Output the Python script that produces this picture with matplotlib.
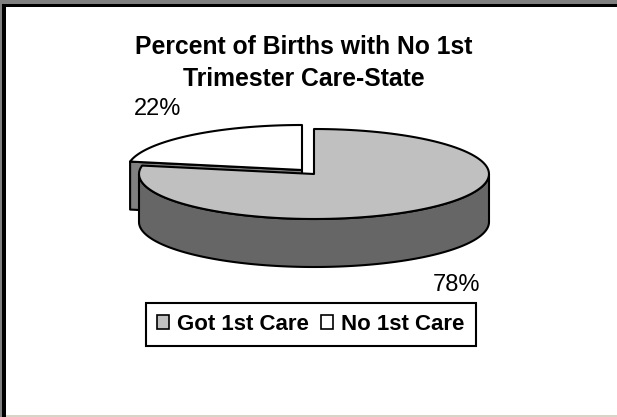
import matplotlib.pyplot as plt
import numpy as np
from matplotlib.patches import Patch, Rectangle

plt.rcParams["font.family"] = ["Liberation Sans", "DejaVu Sans"]

title = "Percent of Births with No 1st\nTrimester Care-State"
categories = ["Got 1st Care", "No 1st Care"]
values = [78, 22]
value_labels = ["78%", "22%"]

TOP_COLORS = ["#c0c0c0", "#ffffff"]
SIDE_COLORS = ["#666666", "#808080"]
LW = 1.5
DEPTH = 48


def rim(cx, cy, a0, a1, rx=175, ry=45):
    # angles in degrees, clockwise from 12 o'clock, y pointing down
    t = np.radians(np.linspace(a0, a1, 120))
    return cx + rx * np.sin(t), cy - ry * np.cos(t)


def draw_slice(ax, cx, cy, a0, a1, top, side, cut_face=None):
    x, y = rim(cx, cy, a0, a1)
    if cut_face is not None:
        ex, ey = rim(cx, cy, cut_face, cut_face)
        ax.fill([cx, ex[0], ex[0], cx], [cy, ey[0], ey[0] + DEPTH, cy + DEPTH],
                fc=side, ec="black", lw=LW, joinstyle="round")
    # outer wall, only the part that faces the viewer
    lo, hi = max(a0, 90), min(a1, 270)
    if hi > lo:
        wx, wy = rim(cx, cy, lo, hi)
        ax.fill(np.r_[wx, wx[::-1]], np.r_[wy, wy[::-1] + DEPTH],
                fc=side, ec="black", lw=LW, joinstyle="round")
    ax.fill(np.r_[cx, x], np.r_[cy, y], fc=top, ec="black", lw=LW, joinstyle="round")


fig = plt.figure(figsize=(6.17, 4.17), dpi=100, facecolor="white")
ax = fig.add_axes([0, 0, 1, 1])
ax.set_xlim(0, 617)
ax.set_ylim(417, 0)
ax.axis("off")

# slide frame
ax.add_patch(Rectangle((0, 0), 617, 4, fc="#808080", ec="none"))
ax.add_patch(Rectangle((0, 0), 2, 417, fc="#808080", ec="none"))
ax.add_patch(Rectangle((2, 4), 615, 2.5, fc="black", ec="none"))
ax.add_patch(Rectangle((2, 4), 4, 413, fc="black", ec="none"))
ax.add_patch(Rectangle((6, 415), 611, 2, fc="#d8d4c8", ec="none"))

shares = np.array(values) / sum(values) * 360
# first slice runs clockwise from 12 o'clock, second is pulled out to the left
draw_slice(ax, 302, 170, 360 - shares[1], 360, TOP_COLORS[1], SIDE_COLORS[1],
           cut_face=360 - shares[1])
draw_slice(ax, 314, 174, 0, shares[0], TOP_COLORS[0], SIDE_COLORS[0])

ax.text(303.5, 63, title, ha="center", va="center", fontsize=17.8, fontweight="bold",
        linespacing=1.43)
ax.text(158, 109, value_labels[1], ha="center", va="center", fontsize=17)
ax.text(456.5, 285, value_labels[0], ha="center", va="center", fontsize=17)

handles = [Patch(fc=c, ec="black", lw=1.2) for c in TOP_COLORS]
leg = ax.legend(handles, categories, ncol=2, loc="center", bbox_to_anchor=(311, 324.5),
                bbox_transform=ax.transData, fancybox=False, framealpha=1, edgecolor="black",
                prop={"weight": "bold", "size": 16}, handlelength=0.55, handleheight=0.55,
                handletextpad=0.36, columnspacing=0.54, borderpad=0.5, borderaxespad=0)
leg.get_frame().set_linewidth(1.5)

fig.savefig("out.png", dpi=100)
